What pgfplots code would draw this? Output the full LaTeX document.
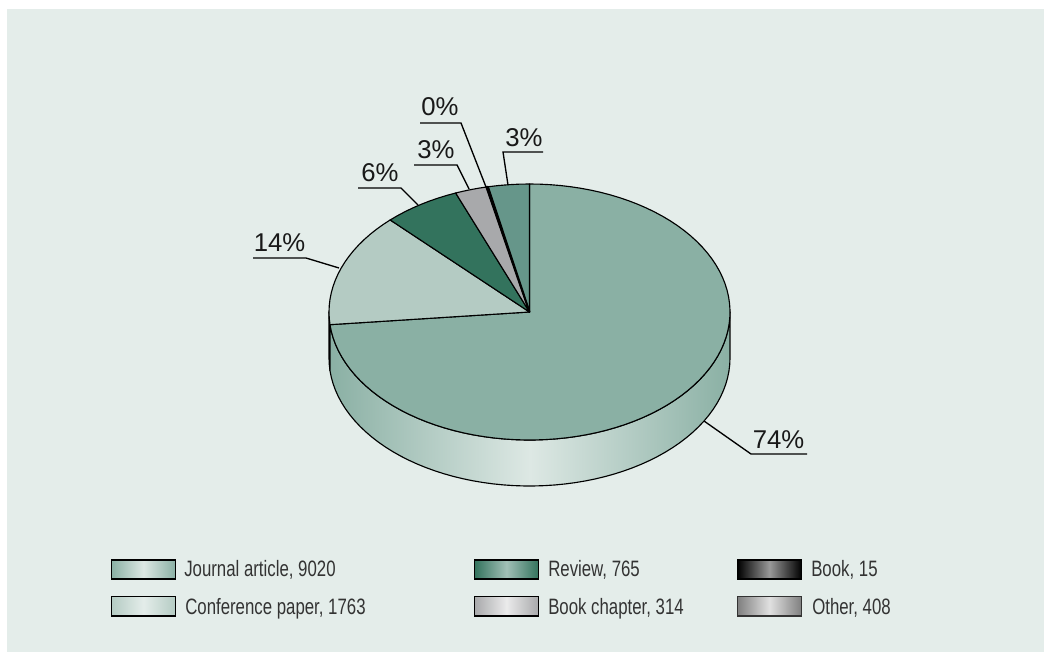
\documentclass[border=0pt]{standalone}
\usepackage{pgfplots}
\pgfplotsset{compat=1.18}
\usepackage{fontspec}
\setmainfont{Liberation Sans}
\newfontfamily\narrowfont[FakeStretch=0.755]{Liberation Sans}

\definecolor{bg}{HTML}{E4EDEA}
\definecolor{cJournal}{HTML}{8AB0A4}
\definecolor{cConf}{HTML}{B4CBC3}
\definecolor{cReview}{HTML}{33735D}
\definecolor{cChapter}{HTML}{A8A9AB}
\definecolor{cOther}{HTML}{66968A}
\definecolor{sideLight}{HTML}{DDE8E4}

% publication counts, clockwise from 12 o'clock
\def\vJournal{9020}
\def\vConf{1763}
\def\vReview{765}
\def\vChapter{314}
\def\vBook{15}
\def\vOther{408}
\pgfmathsetmacro\vtotal{\vJournal+\vConf+\vReview+\vChapter+\vBook+\vOther}
\pgfmathsetmacro\aA{360*(\vJournal/\vtotal)}
\pgfmathsetmacro\aB{\aA+360*(\vConf/\vtotal)}
\pgfmathsetmacro\aC{\aB+360*(\vReview/\vtotal)}
\pgfmathsetmacro\aD{\aC+360*(\vChapter/\vtotal)}
\pgfmathsetmacro\aE{\aD+360*(\vBook/\vtotal)}

% pie geometry in image pixels
\def\piex{529.5}
\def\piey{312}
\def\pierx{200.5}
\def\piery{128}
\def\pied{46}

% append arc points from angle #1 to #2 at vertical offset #3 to \pts
\newcommand\arcpts[3]{%
  \pgfmathtruncatemacro\nsteps{max(1,ceil(abs(#2-#1)/3))}%
  \foreach \i in {0,...,\nsteps}{%
    \pgfmathsetmacro\ang{#1+(#2-#1)*(\i/\nsteps)}%
    \pgfmathsetmacro\ptx{\piex+\pierx*sin(\ang)}%
    \pgfmathsetmacro\pty{\piey+#3-\piery*cos(\ang)}%
    \xdef\pts{\pts (\ptx,\pty)}%
  }%
}
\newcommand\pieslice[3]{% start, end, options
  \gdef\pts{(\piex,\piey)}\arcpts{#1}{#2}{0}%
  \edef\tmp{\noexpand\addplot[draw=black,line width=0.85pt,line join=round,#3] coordinates {\pts} --cycle;}\tmp
}
\newcommand\sidewall[3]{% start, end, options
  \gdef\pts{}\arcpts{#1}{#2}{0}\arcpts{#2}{#1}{\pied}%
  \edef\tmp{\noexpand\addplot[draw=black,line width=0.85pt,line join=round,#3] coordinates {\pts} --cycle;}\tmp
}
\newcommand\swatch[7]{% x0, x1, y0, y1, outer colour, middle colour, border
  \addplot[draw=#7,line width=0.85pt,left color=#5,right color=#5,middle color=#6]
    coordinates {(#1,#3) (#2,#3) (#2,#4) (#1,#4)} --cycle;
}
\newcommand\legtext[3]{\node[anchor=base west,inner sep=0pt,text=black!80,font=\narrowfont\fontsize{16.7}{18}\selectfont] at (axis cs:#1,#2) {#3};}
\newcommand\pct[3]{\node[anchor=base west,inner sep=0pt,text=black!90,font=\fontsize{19.3}{21}\selectfont] at (axis cs:#1,#2) {#3};}

\begin{document}
\begin{tikzpicture}
\begin{axis}[
    scale only axis,
    width=783pt, height=489pt,
    xmin=0, xmax=1044,
    ymin=0, ymax=652,
    y dir=reverse,
    axis lines=none,
    clip=false,
]
% page and panel
\addplot[draw=none,fill=white] coordinates {(0,0)(1044,0)(1044,652)(0,652)} --cycle;
\addplot[draw=none,fill=bg] coordinates {(7,9)(1044,9)(1044,652)(7,652)} --cycle;

% side wall, then top wedges
\sidewall{\aA}{270}{fill=cConf!70!black}
\sidewall{90}{\aA}{left color=cJournal,right color=cJournal,middle color=sideLight}
\pieslice{0}{\aA}{fill=cJournal}
\pieslice{\aA}{\aB}{fill=cConf}
\pieslice{\aB}{\aC}{fill=cReview}
\pieslice{\aC}{\aD}{fill=cChapter}
\pieslice{\aE}{360}{fill=cOther}
\pieslice{\aD}{\aE}{fill=black,line width=1.5pt}

% leader lines
\addplot[black,line width=1pt] coordinates {(253,258)(306,258)(339,268)};
\addplot[black,line width=1pt] coordinates {(358,188)(401,188)(418,205)};
\addplot[black,line width=1pt] coordinates {(414,165)(457,165)(469,189)};
\addplot[black,line width=1pt] coordinates {(420,123)(461,123)(486,187)};
\addplot[black,line width=1pt] coordinates {(543,152)(503,152)(508,185)};
\addplot[black,line width=1pt] coordinates {(704,421)(751,454)(807,454)};

\pct{253.5}{251.5}{14\%}
\pct{361}{181.5}{6\%}
\pct{417}{158.5}{3\%}
\pct{421}{116}{0\%}
\pct{505}{147}{3\%}
\pct{752.5}{448.5}{74\%}

% legend
\swatch{111.5}{175.5}{560}{579}{cJournal}{sideLight}{black}
\swatch{111.5}{175.5}{596.5}{616}{cConf}{bg}{black}
\swatch{474.5}{538.5}{560}{579}{cReview}{cJournal!80!white}{black}
\swatch{474.5}{538.5}{596.5}{616}{cChapter}{black!8}{black}
\swatch{737.5}{801.5}{560}{579}{black}{black!40}{black}
\swatch{737.5}{801.5}{596.5}{616}{black!50}{black!12}{black!80}
\legtext{184}{576}{Journal article, 9020}
\legtext{185}{614}{Conference paper, 1763}
\legtext{548}{576}{Review, 765}
\legtext{548}{614}{Book chapter, 314}
\legtext{811}{576}{Book, 15}
\legtext{812}{614}{Other, 408}
\end{axis}
\end{tikzpicture}
\end{document}
